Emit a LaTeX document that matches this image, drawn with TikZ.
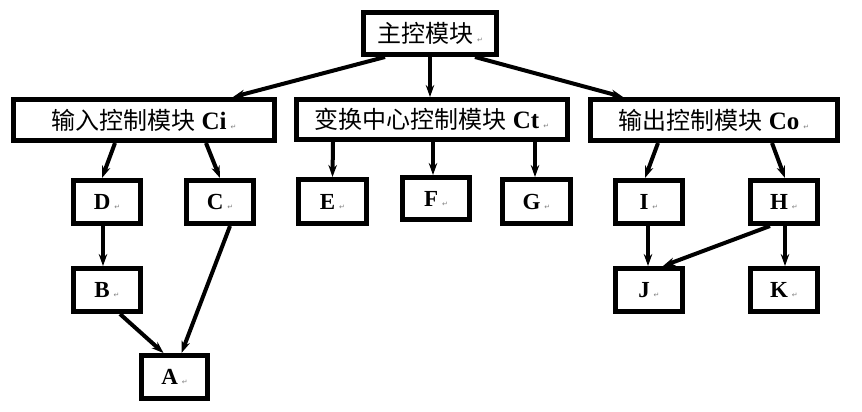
\documentclass[tikz,border=0pt]{standalone}
\usepackage{fontspec}
\setmainfont{Liberation Serif}
\newfontfamily\cjk{Noto Sans CJK SC}
\newfontfamily\symfont{DejaVu Sans}
\usetikzlibrary{arrows.meta}
\newcommand{\parmark}{{\symfont\fontsize{7pt}{7pt}\selectfont\textcolor{gray}{↵}}}
\newcommand{\lat}[1]{{\fontsize{25pt}{25pt}\selectfont\textbf{#1}}}

\begin{document}
\begin{tikzpicture}[x=1pt,y=-1pt,
  main/.style = {draw, line width=5pt, inner sep=0pt, minimum width=67pt, minimum height=43pt, font=\fontsize{23pt}{23pt}\selectfont},
  wide/.style = {main, minimum height=41pt, font=\fontsize{24pt}{24pt}\selectfont},
  link/.style = {line width=4pt, -{Stealth[length=12pt,width=8.5pt]}}]
\useasboundingbox (0,0) rectangle (862,412);
% top level
\node[wide, minimum width=133pt, minimum height=42pt] (0) at (430,33.5) {{\cjk 主控模块}\,\parmark};
\node[wide, minimum width=261pt] (ci) at (144,120) {{\cjk 输入控制模块} \lat{Ci}\,\parmark};
\node[wide, minimum width=271pt, minimum height=40pt] (ct) at (432,119.5) {{\cjk 变换中心控制模块} \lat{Ct}\,\parmark};
\node[wide, minimum width=247pt] (co) at (714,120) {{\cjk 输出控制模块} \lat{Co}\,\parmark};
% sub modules
\node[main] (D) at (107,202) {\textbf{D}\,\parmark};
\node[main] (C) at (220,202) {\textbf{C}\,\parmark};
\node[main] (B) at (107,290) {\textbf{B}\,\parmark};
\node[main, minimum width=66pt] (A) at (174.5,377) {\textbf{A}\,\parmark};
\node[main, minimum width=68pt, minimum height=44pt] (E) at (332.5,201.5) {\textbf{E}\,\parmark};
\node[main, minimum height=42pt] (F) at (436,198.5) {\textbf{F}\,\parmark};
\node[main, minimum width=68pt, minimum height=44pt] (G) at (536.5,201.5) {\textbf{G}\,\parmark};
\node[main] (I) at (649,202) {\textbf{I}\,\parmark};
\node[main] (H) at (784,202) {\textbf{H}\,\parmark};
\node[main] (J) at (649,290) {\textbf{J}\,\parmark};
\node[main] (K) at (784,290) {\textbf{K}\,\parmark};
% arrows
\draw[link] ([xshift=-45pt]0.south) -- ([xshift=89pt]ci.north);
\draw[link] (0.south) -- ([xshift=-2pt]ct.north);
\draw[link] ([xshift=45pt]0.south) -- ([xshift=-91pt]co.north);
\draw[link] ([xshift=-29pt]ci.south) -- ([xshift=-5pt]D.north);
\draw[link] ([xshift=62pt]ci.south) -- (C.north);
\draw[link] ([xshift=-99pt]ct.south) -- (E.north);
\draw[link] ([xshift=1pt]ct.south) -- ([xshift=-3pt]F.north);
\draw[link] ([xshift=103pt]ct.south) -- ([xshift=-1.5pt]G.north);
\draw[link] ([xshift=-56pt]co.south) -- ([xshift=-4pt]I.north);
\draw[link] ([xshift=58pt]co.south) -- ([xshift=1pt]H.north);
\draw[link] ([xshift=-4pt]D.south) -- ([xshift=-4pt]B.north);
\draw[link] ([xshift=13pt]B.south) -- ([xshift=-11pt]A.north);
\draw[link] ([xshift=10pt]C.south) -- ([xshift=7pt]A.north);
\draw[link] ([xshift=-1pt]I.south) -- ([xshift=-1pt]J.north);
\draw[link] ([xshift=-14pt]H.south) -- ([xshift=14pt]J.north);
\draw[link] ([xshift=1pt]H.south) -- ([xshift=1pt]K.north);
\end{tikzpicture}
\end{document}
